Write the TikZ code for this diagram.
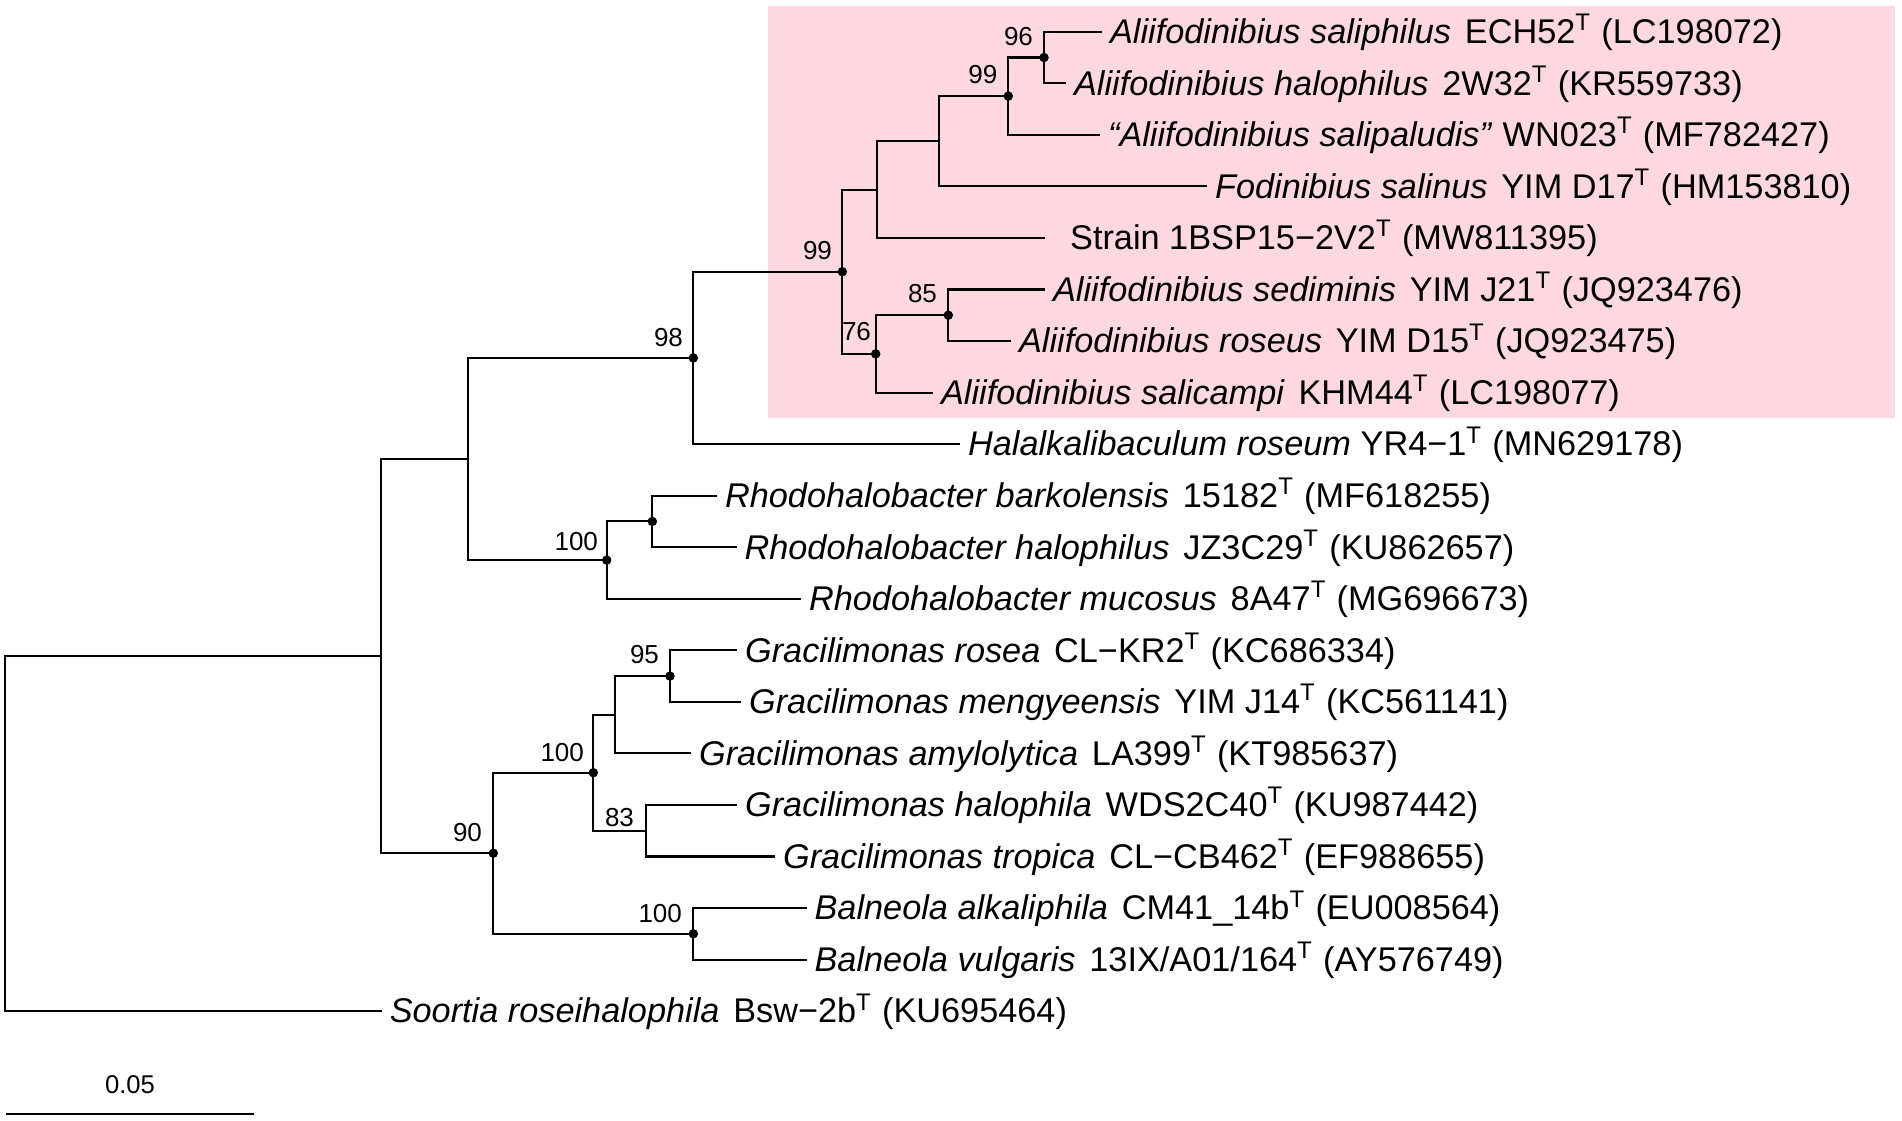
\documentclass[tikz,border=0pt]{standalone}
\usepackage{fontspec}
\setmainfont{Liberation Sans}
\definecolor{cladepink}{RGB}{253,216,225}
\newcommand{\tstr}[1]{#1\textsuperscript{T}}
\newcommand{\spgap}{\hspace{0.4em}}

\begin{document}
\begin{tikzpicture}[x=0.01cm,y=-0.01cm,line width=0.6pt,
      taxon/.style={anchor=west,inner xsep=2pt,inner ysep=0pt,text height=6.7pt,text depth=0pt,
                    font=\fontsize{9.75}{11}\selectfont},
      boot/.style={anchor=base east,inner sep=0pt,font=\fontsize{7.4}{9}\selectfont},
      scalelbl/.style={anchor=base,inner sep=0pt,font=\fontsize{7.3}{9}\selectfont},
      support/.style={fill=black}]
      \useasboundingbox (0,0) rectangle (1902,1120);

      % shaded clade
      \fill[cladepink] (768,6) rectangle (1895,418);

      % leaves
      \node at (1102,31.7)   [taxon] (l1)  {\textit{Aliifodinibius saliphilus}\spgap\tstr{ECH52} (LC198072)};
      \node at (1066,83.25)  [taxon] (l2)  {\textit{Aliifodinibius halophilus}\spgap\tstr{2W32} (KR559733)};
      \node at (1100,134.8)  [taxon] (l3)  {\textit{“Aliifodinibius salipaludis”}\hspace{0.3em}\tstr{WN023} (MF782427)};
      \node at (1207,186.35) [taxon] (l4)  {\textit{Fodinibius salinus}\spgap\tstr{YIM D17} (HM153810)};
      \node at (1044.5,237.9)[taxon] (l5)  {\hspace*{5pt}Strain \tstr{1BSP15−2V2} (MW811395)};
      \node at (1045,289.45) [taxon] (l6)  {\textit{Aliifodinibius sediminis}\spgap\tstr{YIM J21} (JQ923476)};
      \node at (1011,341)    [taxon] (l7)  {\textit{Aliifodinibius roseus}\spgap\tstr{YIM D15} (JQ923475)};
      \node at (933,392.55)  [taxon] (l8)  {\textit{Aliifodinibius salicampi}\spgap\tstr{KHM44} (LC198077)};
      \node at (960,444.1)   [taxon] (l9)  {\textit{Halalkalibaculum roseum} \tstr{YR4−1} (MN629178)};
      \node at (717,495.65)  [taxon] (l10) {\textit{Rhodohalobacter barkolensis}\spgap\tstr{15182} (MF618255)};
      \node at (736.5,547.2) [taxon] (l11) {\textit{Rhodohalobacter halophilus}\spgap\tstr{JZ3C29} (KU862657)};
      \node at (801,598.75)  [taxon] (l12) {\textit{Rhodohalobacter mucosus}\spgap\tstr{8A47} (MG696673)};
      \node at (737,650.3)   [taxon] (l13) {\textit{Gracilimonas rosea}\spgap\tstr{CL−KR2} (KC686334)};
      \node at (741,701.85)  [taxon] (l14) {\textit{Gracilimonas mengyeensis}\spgap\tstr{YIM J14} (KC561141)};
      \node at (691,753.4)   [taxon] (l15) {\textit{Gracilimonas amylolytica}\spgap\tstr{LA399} (KT985637)};
      \node at (737,804.95)  [taxon] (l16) {\textit{Gracilimonas halophila}\spgap\tstr{WDS2C40} (KU987442)};
      \node at (775,856.5)   [taxon] (l17) {\textit{Gracilimonas tropica}\spgap\tstr{CL−CB462} (EF988655)};
      \node at (806.5,908.05)[taxon] (l18) {\textit{Balneola alkaliphila}\spgap\tstr{CM41\_14b} (EU008564)};
      \node at (806.5,959.6) [taxon] (l19) {\textit{Balneola vulgaris}\spgap\tstr{13IX/A01/164} (AY576749)};
      \node at (381.7,1011.15)[taxon] (l20) {\textit{Soortia roseihalophila}\spgap\tstr{Bsw−2b} (KU695464)};

      % internal nodes
      \coordinate (n96)  at (1044,57.5);
      \coordinate (n99b) at (1008.3,96.1);
      \coordinate (nF)   at (939.3,141.2);
      \coordinate (nS)   at (876.7,189.6);
      \coordinate (n85)  at (948.3,315.2);
      \coordinate (n76)  at (875.7,353.9);
      \coordinate (n99a) at (842.3,271.7);
      \coordinate (n98)  at (693.3,357.9);
      \coordinate (nRh)  at (652.3,521.4);
      \coordinate (n100r) at (606.7,560.1);
      \coordinate (nB)   at (468.3,459);
      \coordinate (n95)  at (670,676.1);
      \coordinate (nGu)  at (615,714.7);
      \coordinate (n83)  at (645.7,830.7);
      \coordinate (n100g) at (593.3,772.7);
      \coordinate (n100b) at (693.3,933.8);
      \coordinate (n90)  at (493.3,853.2);
      \coordinate (nA)   at (381,656.1);
      \coordinate (root) at (5,833.6);

      \draw
      (n96)   |- (l1)   (n96)   |- (l2)
      (n99b)  |- (n96)  (n99b)  |- (l3)
      (nF)    |- (n99b) (nF)    |- (l4)
      (nS)    |- (nF)   (nS)    |- (l5)
      (n85)   |- (l6)   (n85)   |- (l7)
      (n76)   |- (n85)  (n76)   |- (l8)
      (n99a)  |- (nS)   (n99a)  |- (n76)
      (n98)   |- (n99a) (n98)   |- (l9)
      (nRh)   |- (l10)  (nRh)   |- (l11)
      (n100r) |- (nRh)  (n100r) |- (l12)
      (nB)    |- (n98)  (nB)    |- (n100r)
      (n95)   |- (l13)  (n95)   |- (l14)
      (nGu)   |- (n95)  (nGu)   |- (l15)
      (n83)   |- (l16)  (n83)   |- (l17)
      (n100g) |- (nGu)  (n100g) |- (n83)
      (n100b) |- (l18)  (n100b) |- (l19)
      (n90)   |- (n100g) (n90)  |- (n100b)
      (nA)    |- (nB)   (nA)    |- (n90)
      (root)  |- (nA)   (root)  |- (l20)
      ;

      \foreach \n in {n96,n99b,n99a,n85,n76,n98,nRh,n100r,n95,n100g,n90,n100b}
        \fill[support] (\n) circle (1.35pt);

      % bootstrap values
      \node at ([shift={(-10,-12.5)}]n96)   [boot] (b96)  {96};
      \node at ([shift={(-10,-12.5)}]n99b)  [boot] (b99b) {99};
      \node at ([shift={(-9.3,-12.7)}]n99a) [boot] (b99a) {99};
      \node at ([shift={(-10.3,-12.5)}]n85) [boot] (b85)  {85};
      \node at ([shift={(-3.7,-13)}]n76)    [boot] (b76)  {76};
      \node at ([shift={(-9.3,-11.9)}]n98)  [boot] (b98)  {98};
      \node at ([shift={(-7.7,-10)}]n100r)  [boot] (b100r) {100};
      \node at ([shift={(-10,-13)}]n95)     [boot] (b95)  {95};
      \node at ([shift={(-8.3,-11)}]n100g)  [boot] (b100g) {100};
      \node at ([shift={(-10.7,-4)}]n83)    [boot] (b83)  {83};
      \node at ([shift={(-10.3,-11.5)}]n90) [boot] (b90)  {90};
      \node at ([shift={(-10.3,-11)}]n100b) [boot] (b100b) {100};

      % scale bar
      \coordinate (sb1) at (6,1114.3);
      \coordinate (sb2) at (254.3,1114.3);
      \draw (sb1) -- (sb2);
      \node at (130,1093.3) [scalelbl] (sbl) {0.05};
    \end{tikzpicture}
\end{document}
